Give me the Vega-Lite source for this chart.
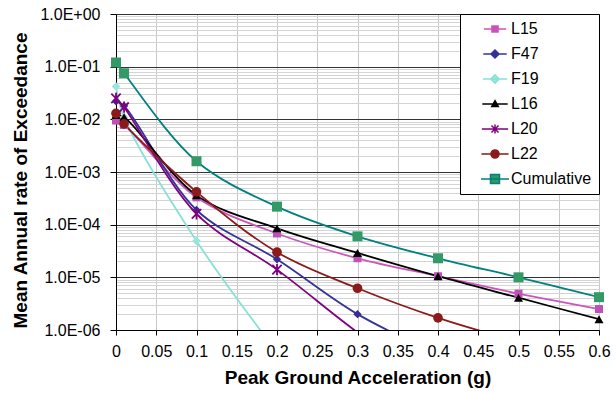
{
  "$schema": "https://vega.github.io/schema/vega-lite/v6.json",
  "autosize": {"type": "none"},
  "width": 483,
  "height": 316,
  "padding": {"left": 116, "top": 14, "right": 17, "bottom": 64},
  "background": "white",
  "config": {
    "view": {"stroke": null},
    "font": "Liberation Sans",
    "axis": {"labelFont": "Liberation Sans", "titleFont": "Liberation Sans", "labelColor": "black", "titleColor": "black"}
  },
  "data": {"values": [
    {"x": 0, "y": 0.0095, "s": "L15"}, {"x": 0.01, "y": 0.0078, "s": "L15"}, {"x": 0.1, "y": 0.00033, "s": "L15"}, {"x": 0.2, "y": 0.000068, "s": "L15"}, {"x": 0.3, "y": 0.000023, "s": "L15"}, {"x": 0.4, "y": 0.0000105, "s": "L15"}, {"x": 0.5, "y": 0.0000049, "s": "L15"}, {"x": 0.6, "y": 0.0000025, "s": "L15"},
    {"x": 0, "y": 0.022, "s": "F47"}, {"x": 0.01, "y": 0.018, "s": "F47"}, {"x": 0.1, "y": 0.00019, "s": "F47"}, {"x": 0.2, "y": 0.000022, "s": "F47"}, {"x": 0.3, "y": 0.000002, "s": "F47"}, {"x": 0.4, "y": 0.00000035, "s": "F47"},
    {"x": 0, "y": 0.042, "s": "F19"}, {"x": 0.01, "y": 0.011, "s": "F19"}, {"x": 0.1, "y": 0.000049, "s": "F19"}, {"x": 0.2, "y": 0.00000038, "s": "F19"},
    {"x": 0, "y": 0.012, "s": "L16"}, {"x": 0.01, "y": 0.011, "s": "L16"}, {"x": 0.1, "y": 0.00036, "s": "L16"}, {"x": 0.2, "y": 0.000085, "s": "L16"}, {"x": 0.3, "y": 0.000029, "s": "L16"}, {"x": 0.4, "y": 0.0000105, "s": "L16"}, {"x": 0.5, "y": 0.0000041, "s": "L16"}, {"x": 0.6, "y": 0.0000016, "s": "L16"},
    {"x": 0, "y": 0.025, "s": "L20"}, {"x": 0.01, "y": 0.017, "s": "L20"}, {"x": 0.1, "y": 0.00016, "s": "L20"}, {"x": 0.2, "y": 0.000014, "s": "L20"}, {"x": 0.3, "y": 0.0000009, "s": "L20"}, {"x": 0.4, "y": 0.00000008, "s": "L20"},
    {"x": 0, "y": 0.013, "s": "L22"}, {"x": 0.01, "y": 0.0082, "s": "L22"}, {"x": 0.1, "y": 0.00042, "s": "L22"}, {"x": 0.2, "y": 0.00003, "s": "L22"}, {"x": 0.3, "y": 0.0000062, "s": "L22"}, {"x": 0.4, "y": 0.0000017, "s": "L22"}, {"x": 0.5, "y": 0.0000006, "s": "L22"},
    {"x": 0, "y": 0.12, "s": "Cumulative"}, {"x": 0.01, "y": 0.075, "s": "Cumulative"}, {"x": 0.1, "y": 0.0016, "s": "Cumulative"}, {"x": 0.2, "y": 0.00022, "s": "Cumulative"}, {"x": 0.3, "y": 0.00006, "s": "Cumulative"}, {"x": 0.4, "y": 0.000023, "s": "Cumulative"}, {"x": 0.5, "y": 0.00001, "s": "Cumulative"}, {"x": 0.6, "y": 0.0000042, "s": "Cumulative"}
  ]},
  "encoding": {
    "x": {"field": "x", "type": "quantitative",
      "scale": {"domain": [0, 0.6], "nice": false, "zero": false},
      "axis": {"title": "Peak Ground Acceleration (g)", "values": [0, 0.05, 0.1, 0.15, 0.2, 0.25, 0.3, 0.35, 0.4, 0.45, 0.5, 0.55, 0.6],
        "format": "~g", "labelFontSize": 16, "titleFontSize": 19, "titleFontWeight": "bold", "labelPadding": 8, "titlePadding": 9,
        "grid": true, "gridColor": "#c8c8c8", "gridWidth": 1, "domainColor": "black", "tickColor": "black", "tickSize": 5, "labelFlush": false}},
    "y": {"field": "y", "type": "quantitative",
      "scale": {"type": "log", "domain": [0.000001, 1], "nice": false},
      "axis": {"title": "Mean Annual rate of Exceedance",
        "values": [0.000001, 0.000002, 0.000003, 0.000004, 0.000005, 0.000006, 0.000007, 0.000008, 0.000009,
                   0.00001, 0.00002, 0.00003, 0.00004, 0.00005, 0.00006, 0.00007, 0.00008, 0.00009,
                   0.0001, 0.0002, 0.0003, 0.0004, 0.0005, 0.0006, 0.0007, 0.0008, 0.0009,
                   0.001, 0.002, 0.003, 0.004, 0.005, 0.006, 0.007, 0.008, 0.009,
                   0.01, 0.02, 0.03, 0.04, 0.05, 0.06, 0.07, 0.08, 0.09,
                   0.1, 0.2, 0.3, 0.4, 0.5, 0.6, 0.7, 0.8, 0.9, 1],
        "labelExpr": "abs(log(datum.value)/LN10 - round(log(datum.value)/LN10)) < 0.001 ? (datum.value >= 0.999 ? '1.0E+00' : '1.0E-0' + round(-log(datum.value)/LN10)) : ''",
        "labelOverlap": false, "labelFontSize": 16, "titleFontSize": 19, "titleFontWeight": "bold", "labelPadding": 10, "titlePadding": 9, "titleY": 166,
        "grid": true,
        "gridColor": {"condition": {"test": "abs(log(datum.value)/LN10 - round(log(datum.value)/LN10)) < 0.001", "value": "#333333"}, "value": "#d4d4d4"},
        "tickColor": {"condition": {"test": "abs(log(datum.value)/LN10 - round(log(datum.value)/LN10)) < 0.001", "value": "black"}, "value": "transparent"},
        "domainColor": "black", "tickSize": 6}}
  },
  "layer": [
    {
      "mark": {"type": "line", "strokeWidth": 1.8, "clip": true, "interpolate": "catmull-rom"},
      "encoding": {
        "color": {"field": "s", "type": "nominal",
          "scale": {"domain": ["L15", "F47", "F19", "L16", "L20", "L22", "Cumulative"],
                    "range": ["#cc55bb", "#333399", "#88e0d8", "#000000", "#800080", "#8b1a1a", "#008080"]},
          "legend": {"title": null, "orient": "top-right", "offset": 0, "fillColor": "white", "strokeColor": "black",
            "padding": 7, "rowPadding": 9, "symbolSize": 256, "symbolOffset": 20, "labelOffset": 8,
            "labelFontSize": 16, "labelFont": "Liberation Sans", "labelColor": "black", "symbolStrokeWidth": 1.5,
            "encode": {"symbols": {"update": {
              "shape": {"signal": "datum.value === 'L15' ? 'M-2.8,0H2.8M-0.76,-0.76H0.76V0.76H-0.76Z' : datum.value === 'F47' ? 'M-2.8,0H2.8M0,-0.97L0.97,0L0,0.97L-0.97,0Z' : datum.value === 'F19' ? 'M-2.8,0H2.8M0,-0.97L0.97,0L0,0.97L-0.97,0Z' : datum.value === 'L16' ? 'M-2.8,0H2.8M0,-0.72L0.72,0.56L-0.72,0.56Z' : datum.value === 'L20' ? 'M-2.8,0H2.8M-0.76,-0.76L0.76,0.76M-0.76,0.76L0.76,-0.76M0,-0.97L0,0.97' : datum.value === 'L22' ? 'M-2.8,0H2.8M0.83,0A0.83,0.83 0 1,1 -0.83,0A0.83,0.83 0 1,1 0.83,0Z' : 'M-2.8,0H2.8M-0.9,-0.9H0.9V0.9H-0.9Z'"},
              "fill": {"signal": "datum.value === 'L15' ? '#c050b8' : datum.value === 'F47' ? '#3a2a99' : datum.value === 'F19' ? '#99e6dd' : datum.value === 'L16' ? '#000000' : datum.value === 'L20' ? '#800080' : datum.value === 'L22' ? '#8b1a1a' : '#339966'"},
              "stroke": {"signal": "datum.value === 'L15' ? '#cc55bb' : datum.value === 'F47' ? '#333399' : datum.value === 'F19' ? '#88e0d8' : datum.value === 'L16' ? '#000000' : datum.value === 'L20' ? '#800080' : datum.value === 'L22' ? '#8b1a1a' : '#008080'"}
            }}}
          }}
      }
    },
    {
      "transform": [{"filter": "datum.y >= 0.000001 && (datum.s === 'L15' || datum.s === 'Cumulative')"}],
      "mark": {"type": "point", "shape": "square", "filled": true, "opacity": 1, "clip": false},
      "encoding": {
        "fill": {"field": "s", "type": "nominal", "legend": null,
          "scale": {"domain": ["L15", "F47", "F19", "L16", "L20", "L22", "Cumulative"],
                    "range": ["#c050b8", "#3a2a99", "#99e6dd", "#000000", "#800080", "#8b1a1a", "#339966"]}},
        "size": {"field": "s", "type": "nominal", "legend": null,
          "scale": {"domain": ["L15", "F47", "F19", "L16", "L20", "L22", "Cumulative"],
                    "range": [64, 100, 100, 64, 90, 121, 130]}}
      }
    },
    {
      "transform": [{"filter": "datum.y >= 0.000001 && (datum.s === 'F47' || datum.s === 'F19')"}],
      "mark": {"type": "point", "shape": "diamond", "filled": true, "opacity": 1, "clip": false},
      "encoding": {
        "fill": {"field": "s", "type": "nominal", "legend": null},
        "size": {"field": "s", "type": "nominal", "legend": null}
      }
    },
    {
      "transform": [{"filter": "datum.y >= 0.000001 && datum.s === 'L16'"}],
      "mark": {"type": "point", "shape": "triangle-up", "filled": true, "opacity": 1, "clip": false},
      "encoding": {
        "fill": {"field": "s", "type": "nominal", "legend": null},
        "size": {"field": "s", "type": "nominal", "legend": null}
      }
    },
    {
      "transform": [{"filter": "datum.y >= 0.000001 && datum.s === 'L22'"}],
      "mark": {"type": "point", "shape": "circle", "filled": true, "opacity": 1, "clip": false},
      "encoding": {
        "fill": {"field": "s", "type": "nominal", "legend": null},
        "size": {"field": "s", "type": "nominal", "legend": null}
      }
    },
    {
      "transform": [{"filter": "datum.y >= 0.000001 && datum.s === 'L20'"}],
      "mark": {"type": "point", "shape": "M-1,-1L1,1M-1,1L1,-1M0,-1.2L0,1.2", "filled": false, "opacity": 1, "strokeWidth": 1.8, "stroke": "#800080", "clip": false},
      "encoding": {
        "size": {"field": "s", "type": "nominal", "legend": null}
      }
    }
  ]
}
